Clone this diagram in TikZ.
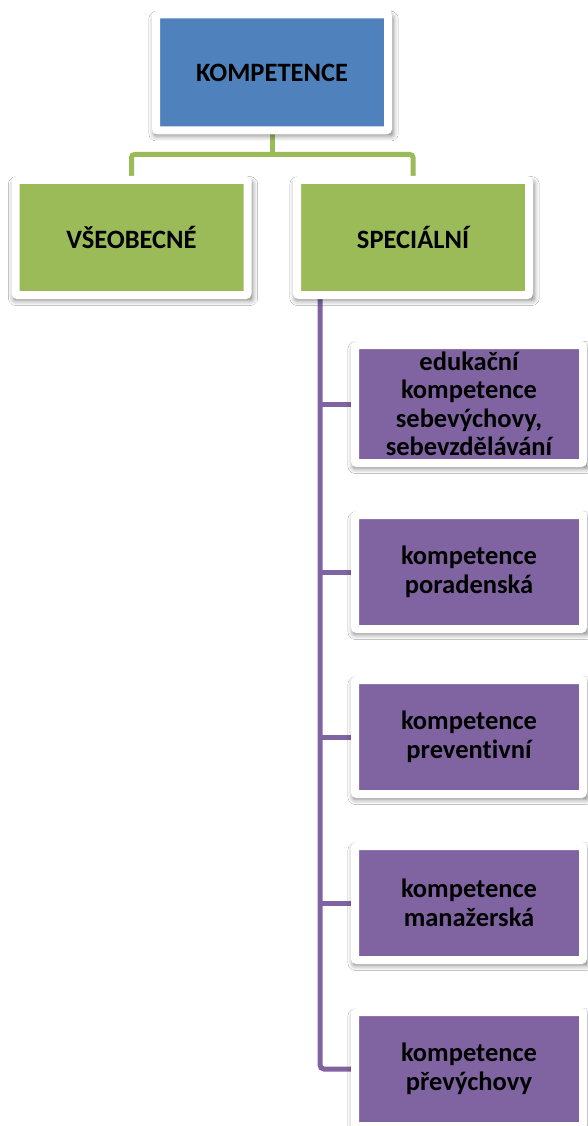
\documentclass[tikz,border=0pt]{standalone}
\usepackage{fontspec}
\setmainfont{Carlito}[Ligatures=NoCommon]
\usetikzlibrary{shadows.blur,backgrounds}

\definecolor{topblue}{HTML}{4F81BD}
\definecolor{leafgreen}{HTML}{9BBB59}
\definecolor{leafpurple}{HTML}{8064A2}

\tikzset{
  card/.style={fill=#1, draw=white, line width=8pt, rounded corners=2pt,
    inner sep=0pt, align=center,
    font=\bfseries\fontsize{26.5}{28.5}\selectfont,
    blur shadow={shadow xshift=1.5pt, shadow yshift=-3.5pt,
      shadow blur radius=5pt, shadow blur extra rounding=2pt,
      shadow scale=1.03, shadow opacity=50}},
  wide/.style={minimum width=232pt, minimum height=115pt},
  side/.style={minimum width=228pt, minimum height=114pt},
  greenline/.style={draw=leafgreen, line width=5pt, rounded corners=3pt},
  purpleline/.style={draw=leafpurple, line width=5pt, rounded corners=4pt}
}

\begin{document}
\begin{tikzpicture}[x=1pt, y=-1pt]
  \useasboundingbox (0,0) rectangle (588,1126);

  % top level
  \node[card=topblue, wide, minimum height=116pt] (top) at (272,72.5) {KOMPETENCE};

  % second level
  \node[card=leafgreen, wide] (vseob) at (131.5,237.5) {VŠEOBECNÉ};
  \node[card=leafgreen, wide] (spec) at (413,237.5) {SPECIÁLNÍ};

  % special competences
  \node[card=leafpurple, side, minimum height=118pt] (p1) at (469,404)
    {edukační\\kompetence\\sebevýchovy,\\sebevzdělávání};
  \node[card=leafpurple, side] (p2) at (469,572) {kompetence\\poradenská};
  \node[card=leafpurple, side] (p3) at (469,737) {kompetence\\preventivní};
  \node[card=leafpurple, side] (p4) at (469,903) {kompetence\\manažerská};
  \node[card=leafpurple, side] (p5) at (469,1069) {kompetence\\převýchovy};

  \coordinate (bus) at (272,154.5);
  \coordinate (trunk) at (320,296);

  \begin{scope}[on background layer]
    \fill[white] (0,0) rectangle (588,1126);
    % green bus under the top box
    \draw[greenline] (top.south) -- (bus);
    \draw[greenline] (vseob.north) -- (vseob.north |- bus)
      -- (spec.north |- bus) -- (spec.north);
    % purple trunk with branches
    \draw[purpleline] (trunk) |- (p5.west);
    \draw[purpleline] (p1.west -| trunk) -- (p1.west);
    \draw[purpleline] (p2.west -| trunk) -- (p2.west);
    \draw[purpleline] (p3.west -| trunk) -- (p3.west);
    \draw[purpleline] (p4.west -| trunk) -- (p4.west);
  \end{scope}
\end{tikzpicture}
\end{document}
